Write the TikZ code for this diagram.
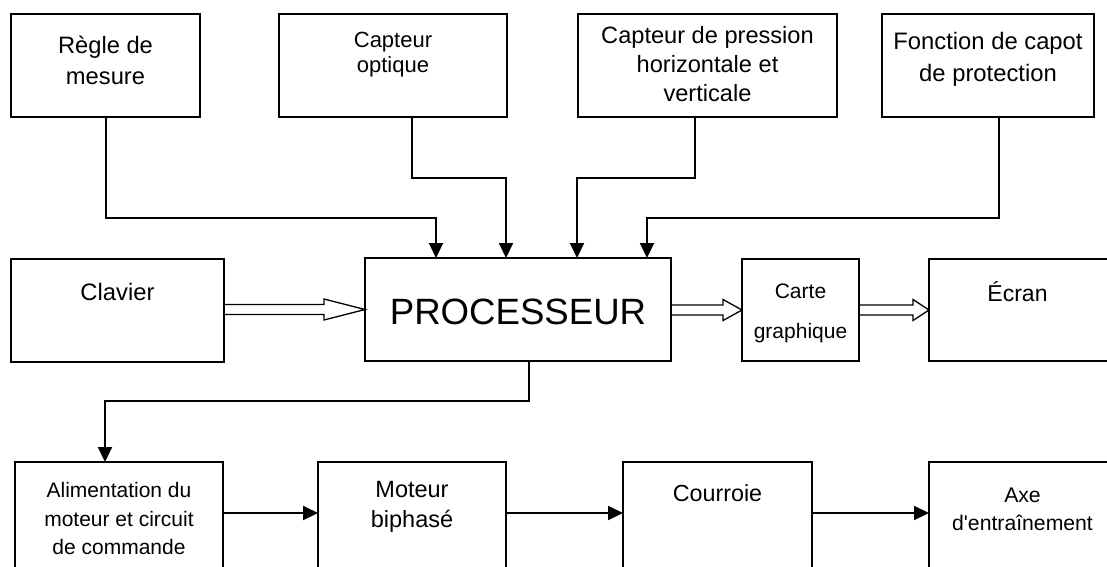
\documentclass[tikz,border=0pt]{standalone}
\usepackage{fontspec}
\setmainfont{Liberation Sans}
\usetikzlibrary{arrows.meta,calc}
\tikzset{
  box/.style={draw, line width=1.4pt, inner sep=0pt, outer sep=0pt},
  txt/.style={align=center, inner sep=0pt},
  conn/.style={line width=2pt, -{Triangle[length=15pt,width=14pt]}},
  hollow/.style={line width=1.3pt, line join=miter},
}
\newcommand\fs[2]{\fontsize{#1pt}{#2pt}\selectfont}
\newcommand\hollowarr[3]{%
  \draw[hollow] ($(#1.east |- #2.west)+(0,-5)$) -- ($(#2.west)+(-#3,-5)$)
    -- ($(#2.west)+(-#3,-10.5)$) -- (#2.west) -- ($(#2.west)+(-#3,10.5)$)
    -- ($(#2.west)+(-#3,5)$) -- ($(#1.east |- #2.west)+(0,5)$);}
\begin{document}
\begin{tikzpicture}[x=1pt,y=-1pt]
\clip (0,0) rectangle (1107,566);
\fill[white] (0,0) rectangle (1107,566);

% top row
\node[box, minimum width=189pt, minimum height=103pt,
  label={[txt,yshift=5pt,font=\fs{23.7}{31}]center:{Règle de\\mesure}}] (regle) at (105.5,65.5) {};
\node[box, minimum width=228pt, minimum height=103pt,
  label={[txt,yshift=11pt,font=\fs{22}{25}]center:{Capteur\\optique}}] (capt) at (393,65.5) {};
\node[box, minimum width=259pt, minimum height=103pt,
  label={[txt,yshift=1.5pt,font=\fs{23.6}{29}]center:{Capteur de pression\\horizontale et\\verticale}}] (press) at (707.5,65.5) {};
\node[box, minimum width=212pt, minimum height=103pt,
  label={[txt,yshift=6.5pt,font=\fs{23.8}{32}]center:{Fonction de capot\\de protection}}] (fonc) at (988,65.5) {};

% middle row
\node[box, minimum width=213pt, minimum height=103pt,
  label={[txt,yshift=18.5pt,font=\fs{23.8}{30}]center:{Clavier}}] (clav) at (117.5,310.5) {};
\node[box, minimum width=306pt, minimum height=103pt,
  label={[txt,yshift=-2.5pt,font=\fs{36.6}{40}]center:{PROCESSEUR}}] (proc) at (518,309.5) {};
\node[box, minimum width=117pt, minimum height=102pt,
  label={[txt,yshift=-3pt,font=\fs{21}{40}]center:{Carte\\graphique}}] (carte) at (800.5,310) {};
\node[box, minimum width=181pt, minimum height=102pt,
  label={[txt,xshift=-2pt,yshift=18pt,font=\fs{23}{30}]center:{Écran}}] (ecran) at (1019.5,310) {};

% bottom row
\node[box, minimum width=208pt, minimum height=110pt,
  label={[txt,yshift=-1.5pt,font=\fs{21}{28.5}]center:{Alimentation du\\moteur et circuit\\de commande}}] (alim) at (119,517) {};
\node[box, minimum width=188pt, minimum height=110pt,
  label={[txt,yshift=10pt,font=\fs{23.5}{30}]center:{Moteur\\biphasé}}] (moteur) at (412,517) {};
\node[box, minimum width=189pt, minimum height=110pt,
  label={[txt,yshift=24pt,font=\fs{23.3}{30}]center:{Courroie}}] (courroie) at (717.5,517) {};
\node[box, minimum width=187pt, minimum height=110pt,
  label={[txt,yshift=8pt,font=\fs{21.2}{28}]center:{Axe\\d\textquotesingle entraînement}}] (axe) at (1022.5,517) {};

% sensors to processor
\draw[conn] (regle.south) |- ($(proc.north)+(-82,-40)$) -- ($(proc.north)+(-82,0)$);
\draw[conn] ($(capt.south)+(19,0)$) |- ($(proc.north)+(-12,-80)$) -- ($(proc.north)+(-12,0)$);
\draw[conn] ($(press.south)+(-12.5,0)$) |- ($(proc.north)+(59,-80)$) -- ($(proc.north)+(59,0)$);
\draw[conn] ($(fonc.south)+(11,0)$) |- ($(proc.north)+(129,-40)$) -- ($(proc.north)+(129,0)$);

% hollow arrows
\hollowarr{clav}{proc}{41}
\hollowarr{proc}{carte}{19}
\hollowarr{carte}{ecran}{16}

% processor to drive chain
\draw[conn] ($(proc.south)+(11,0)$) |- ($(alim.north)+(-14,-61)$) -- ($(alim.north)+(-14,0)$);
\draw[conn] ($(alim.east)+(0,-4)$) -- ($(moteur.west)+(0,-4)$);
\draw[conn] ($(moteur.east)+(0,-4)$) -- ($(courroie.west)+(0,-4)$);
\draw[conn] ($(courroie.east)+(0,-4)$) -- ($(axe.west)+(0,-4)$);
\end{tikzpicture}
\end{document}
